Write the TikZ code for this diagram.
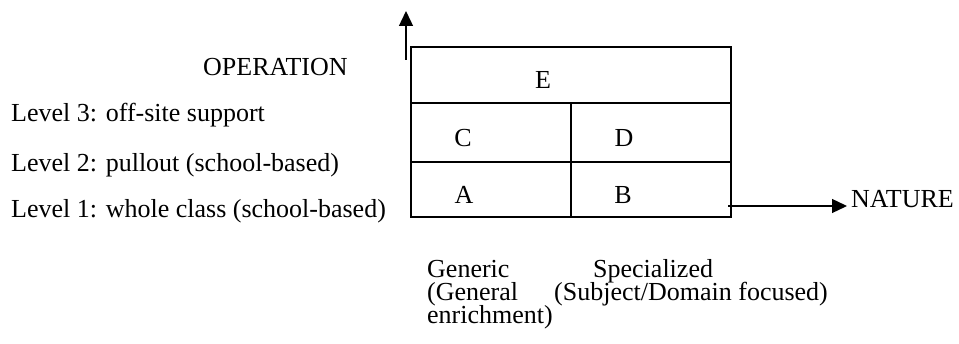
\documentclass[tikz,border=0pt]{standalone}
\usepackage{fontspec}
\setmainfont{Liberation Serif}
\usepackage{tikz}
\usetikzlibrary{arrows.meta}

\begin{document}
\begin{tikzpicture}[x=1pt,y=-1pt,font=\fontsize{26}{23}\selectfont]
\useasboundingbox (0,0) rectangle (959,344);
% grid of the five boxes
\begin{scope}[line width=1.8pt]
    \draw (411,47) rectangle (731,217);
    \draw (411,103) -- (731,103);
    \draw (411,162) -- (731,162);
    \draw (571,103) -- (571,217);
\end{scope}
\begin{scope}[every node/.style={inner sep=0pt,anchor=base}]
    \node (E) at (543,89) {E};
    \node (C) at (463,147) {C};
    \node (D) at (624,147) {D};
    \node (A) at (464,204) {A};
    \node (B) at (623,204) {B};
\end{scope}
\begin{scope}[every node/.style={inner sep=0pt,anchor=base west}]
    \node (operation) at (203,76) {OPERATION};
    \node (level3) at (11,122) {Level 3: off-site support};
    \node (level2) at (11,172) {Level 2: pullout (school-based)};
    \node (level1) at (11,218) {Level 1: whole class (school-based)};
    % axis values below the grid
    \node (generic) at (427,278) {Generic};
    \node (general) at (427,301) {(General};
    \node (enrich) at (427,324) {enrichment)};
    \node (special) at (593,278) {Specialized};
    \node (subject) at (554,301) {(Subject/Domain focused)};
\end{scope}
\node[inner ysep=0pt,inner xsep=4pt,anchor=base west] (nature) at (847,208) {NATURE};
\coordinate (opfoot) at (406,60);
\coordinate (optop) at (406,11);
\coordinate (natfoot) at (728,206);
\begin{scope}[>={Triangle[length=15pt,width=14pt]},line width=1.3pt]
    \draw [->] (opfoot) -- (optop);
    \draw [->] (natfoot) -- (natfoot -| nature.west);
\end{scope}
\end{tikzpicture}
\end{document}
